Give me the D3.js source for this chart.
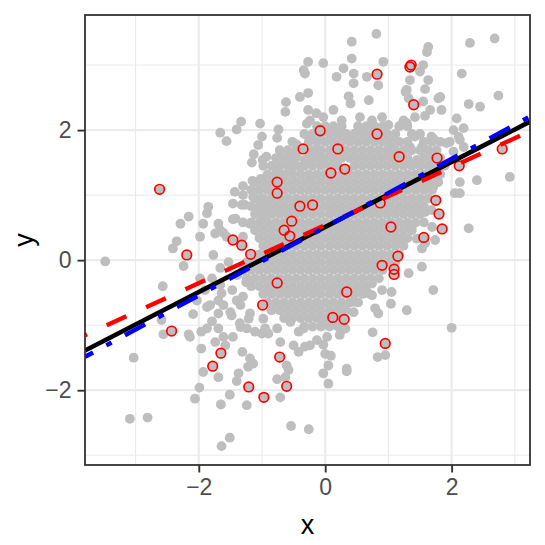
<!DOCTYPE html>
<html>
<head>
<meta charset="utf-8">
<script src="https://cdn.jsdelivr.net/npm/d3@7"></script>
<style>
	body { margin: 0; background: #ffffff; }
	text { font-family: 'Liberation Sans', Arial, Helvetica, sans-serif; }
</style>
</head>
<body>
<div id="chart"></div>
<script>
// scattered gray points (x, y)
var grayPoints = [
	[0.81,3.48],[0.42,3.36],[1.63,3.28],[1.61,3.20],[2.29,3.34],[2.68,3.41],
	[-0.27,3.05],[-0.03,3.03],[0.42,3.10],[-0.34,2.92],[0.29,2.95],[0.45,2.87],
	[0.18,2.82],[0.66,2.82],[0.92,3.05],[1.55,3.00],[1.50,2.90],[1.34,2.77],
	[1.63,2.77],[0.45,2.72],[0.84,2.69],[1.29,2.62],[1.58,2.63],[2.16,2.87],
	[-0.32,2.87],[-0.27,2.57],[-0.40,2.51],[-0.62,2.43],[-0.63,2.28],[-0.27,2.31],
	[-0.29,2.10],[-0.14,2.26],[-0.03,2.20],[-0.24,2.15],[0.37,2.52],[0.40,2.41],
	[0.69,2.46],[1.32,2.49],[1.55,2.44],[1.79,2.49],[1.66,2.31],[1.84,2.31],
	[2.27,2.40],[2.45,2.36],[2.74,2.53],[1.27,2.59],[1.82,2.51],[0.13,2.31],
	[0.26,2.15],[0.55,2.20],[0.74,2.15],[0.90,2.20],[1.24,2.15],[1.42,2.20],
	[1.58,2.22],[2.08,2.18],
	[-1.33,2.13],[-1.40,2.01],[-1.66,1.96],[-1.56,1.83],[-1.03,2.10],[-1.00,1.90],
	[-0.74,2.01],[-0.76,1.88],[-1.06,1.77],
	[1.00,2.08],[1.29,2.11],[1.42,1.90],[1.71,1.87],[2.03,2.00],[2.19,2.03],
	[1.92,1.80],[2.13,1.85],[2.19,1.74],[1.68,1.90],[1.97,1.82],[2.11,1.90],
	[2.03,1.67],[1.53,1.74],[1.34,1.74],[1.45,1.54],[1.32,1.51],[1.05,1.77],[1.00,1.69],
	[-1.13,1.63],[-0.99,1.54],[-1.16,1.50],[-0.93,1.59],[-0.58,1.59],[-0.45,1.59],
	[-0.50,1.49],[-0.40,1.44],[-0.77,1.40],[-0.71,1.33],[-0.45,1.78],[-0.11,1.69],
	[-0.03,1.54],[-0.24,1.90],[-0.32,1.54],[-0.24,1.59],[-0.55,1.43],[-0.68,1.28],
	[-1.02,1.25],[-1.15,1.22],[-1.30,1.14],[-1.43,1.05],[-1.30,1.00],[-1.46,0.87],
	[-1.32,0.85],[-1.85,0.82],[-1.87,0.72],[-2.16,0.67],[-2.29,0.56],[-1.93,0.56],
	[-1.69,0.56],[-1.46,0.63],[-1.66,0.46],[-1.74,0.41],[-1.56,0.36],[-1.14,0.97],
	[-1.00,0.95],[-0.92,0.87],[-1.08,0.77],[-0.84,0.72],[-0.98,0.64],[-1.19,0.56],
	[-1.27,0.85],[-1.42,0.64],[-1.98,0.36],[-1.61,0.42],[-1.30,0.36],[-0.24,1.28],
	[-2.35,0.29],[-2.41,0.18],[-3.48,-0.02],[-2.24,-0.09],[-2.57,-0.40],[-2.59,-0.92],
	[-2.56,-1.14],[-2.16,-1.14],[-3.03,-1.50],[-1.77,0.08],[-2.03,-0.62],[-1.87,-0.72],
	[-1.69,-0.82],[-1.50,-0.80],[-1.69,-0.62],[-1.64,-0.51],[-1.40,-0.62],[-1.30,-0.56],
	[-1.34,-0.69],[-1.19,-0.82],[-0.98,-0.90],[-2.09,-0.83],[-1.96,-1.10],[-1.96,-1.36],
	[-1.74,-1.26],[-1.93,-1.72],[-1.99,-1.96],[-2.06,-2.13],[-3.09,-2.44],[-2.81,-2.42],
	[-1.65,-2.22],[-1.51,-2.07],[-1.24,-2.23],[-1.64,-2.86],[-1.51,-2.73],[-0.54,-2.55],
	[-0.26,-2.60],[-0.71,-2.11],[-0.76,-1.83],[-0.58,-1.69],[-0.63,-1.80],[-1.69,-1.80],
	[-1.37,-1.74],[-1.40,-1.86],[-1.19,-1.51],[-1.14,-1.59],[-1.22,-1.64],[-1.31,-1.41],
	[-1.58,-1.31],[-1.46,-1.18],[-1.69,-1.05],[-1.79,-0.94],[-1.61,-0.69],[-1.82,-0.69],
	[-1.90,-0.46],[-1.66,-0.38],[-1.79,-0.28],[-1.98,-0.28],[-1.48,-0.85],[-1.35,-0.97],
	[-1.21,-0.90],[-1.11,-1.10],[-1.00,-1.13],[-0.90,-1.13],[-0.76,-1.05],[-0.71,-1.26],
	[-0.50,-1.31],[-0.42,-1.41],[-0.24,-1.31],[-0.55,-0.95],[-0.42,-1.10],[-0.34,-1.05],
	[-0.61,-1.62],[-0.32,-1.33],[-0.13,-1.23],[-0.05,-1.00],[0.03,-1.18],[0.00,-1.44],
	[0.05,-1.62],[-0.03,-1.74],[0.05,-1.90],[-2.14,-1.18],[-1.87,-1.05],[-1.61,-1.18],
	[-1.34,-1.03],[-1.24,-1.05],[-0.95,-1.05],
	[-1.66,-0.12],[-1.53,-0.03],[-1.39,-0.23],[-1.25,-0.34],[-1.47,-0.46],
	[1.53,0.18],[1.53,-0.10],[1.32,-0.20],[1.71,-0.46],[1.29,-0.77],[1.04,-0.67],
	[0.79,-0.74],[0.84,-0.82],[0.74,-0.54],[1.05,-0.49],[0.90,-0.46],[2.00,-1.04],
	[0.75,-1.11],[0.83,-1.49],[0.95,-1.46],[0.34,-1.67],[0.34,-1.71],[0.09,-1.47],
	[-0.03,-1.30],[0.23,-1.15],[0.26,-1.08],[0.45,-0.80],[0.47,-0.64],[0.68,-0.51],
	[0.74,-0.36],[0.32,-1.05],
	[1.58,0.74],[1.37,0.51],[1.69,0.51],[1.45,0.33],[1.21,0.26],[1.58,0.26],[1.74,0.31],
	[1.79,1.20],[2.05,1.03],[2.13,1.03],[1.58,1.13],[1.40,1.15],[2.92,1.28],[2.40,1.23],
	[2.13,1.20],[1.71,1.13],[1.68,0.77],[2.27,0.49]
];

// the crowded middle of the cloud, one row of x values per y
var denseRows = [
	[2.06, [-0.13,0.00,0.13,0.26,0.52,0.65,0.78,0.91,1.17,1.30]],
	[1.94, [-0.33,-0.20,-0.07,0.07,0.20,0.33,0.46,0.59,0.72,0.85,0.98,1.11,1.37,1.50]],
	[1.82, [-0.52,-0.26,-0.13,0.00,0.13,0.26,0.39,0.52,0.65,0.78,0.91,1.04,1.17,1.30,1.56,1.69,1.82]],
	[1.69, [-0.72,-0.59,-0.46,-0.20,-0.07,0.07,0.20,0.33,0.46,0.59,0.72,0.85,0.98,1.11,1.24,1.37,1.50,1.63,1.76]],
	[1.57, [-0.78,-0.65,-0.52,-0.26,-0.13,0.00,0.13,0.26,0.39,0.52,0.65,0.78,0.91,1.04,1.17,1.30,1.56,1.69,1.82]],
	[1.45, [-0.98,-0.85,-0.72,-0.59,-0.46,-0.33,-0.20,-0.07,0.07,0.20,0.46,0.59,0.72,0.85,0.98,1.11,1.24,1.37,1.50,1.63,1.76,1.89]],
	[1.32, [-0.91,-0.78,-0.65,-0.52,-0.39,-0.26,-0.13,0.00,0.13,0.26,0.39,0.52,0.65,0.78,0.91,1.04,1.17,1.30,1.43,1.56,1.69,1.82]],
	[1.20, [-1.11,-0.98,-0.85,-0.72,-0.59,-0.46,-0.33,-0.20,-0.07,0.07,0.20,0.33,0.46,0.59,0.72,0.85,0.98,1.11,1.24,1.37,1.50,1.63,1.76]],
	[1.08, [-1.17,-1.04,-0.91,-0.78,-0.65,-0.52,-0.39,-0.26,-0.13,0.00,0.13,0.26,0.39,0.52,0.65,0.78,0.91,1.04,1.17,1.30,1.43,1.56,1.69]],
	[0.95, [-1.11,-0.98,-0.85,-0.72,-0.59,-0.46,-0.33,-0.20,-0.07,0.07,0.20,0.33,0.46,0.59,0.72,0.85,0.98,1.11,1.24,1.37,1.50,1.63]],
	[0.83, [-1.17,-1.04,-0.91,-0.78,-0.65,-0.52,-0.39,-0.26,-0.13,0.00,0.13,0.26,0.39,0.52,0.65,0.78,0.91,1.04,1.17,1.30,1.43,1.56]],
	[0.71, [-1.11,-0.98,-0.85,-0.72,-0.59,-0.46,-0.33,-0.20,-0.07,0.07,0.20,0.33,0.46,0.59,0.72,0.85,0.98,1.11,1.24,1.37,1.50]],
	[0.58, [-1.30,-1.17,-1.04,-0.91,-0.78,-0.65,-0.52,-0.39,-0.26,-0.13,0.00,0.13,0.26,0.39,0.52,0.65,0.78,0.91,1.04,1.17,1.30,1.43,1.56]],
	[0.46, [-1.11,-0.98,-0.85,-0.72,-0.59,-0.46,-0.33,-0.20,-0.07,0.07,0.20,0.33,0.46,0.59,0.72,0.85,0.98,1.11,1.24,1.37]],
	[0.34, [-1.04,-0.91,-0.78,-0.65,-0.52,-0.39,-0.26,-0.13,0.00,0.13,0.26,0.39,0.52,0.65,0.78,0.91,1.04,1.17,1.30]],
	[0.22, [-0.98,-0.85,-0.72,-0.59,-0.46,-0.33,-0.20,-0.07,0.07,0.20,0.33,0.46,0.59,0.72,0.85,0.98,1.11,1.24]],
	[0.09, [-1.04,-0.91,-0.78,-0.65,-0.52,-0.39,-0.26,-0.13,0.00,0.13,0.26,0.39,0.52,0.65,0.78,0.91,1.04,1.17]],
	[-0.03, [-1.24,-1.11,-0.98,-0.85,-0.72,-0.59,-0.46,-0.33,-0.20,-0.07,0.07,0.20,0.33,0.46,0.59,0.72,0.85,0.98,1.11]],
	[-0.15, [-1.30,-1.17,-1.04,-0.91,-0.78,-0.65,-0.52,-0.39,-0.26,-0.13,0.00,0.13,0.26,0.39,0.52,0.65,0.78,0.91]],
	[-0.28, [-1.24,-1.11,-0.98,-0.85,-0.72,-0.59,-0.46,-0.33,-0.20,-0.07,0.07,0.20,0.33,0.46,0.59,0.72,0.85]],
	[-0.40, [-1.17,-1.04,-0.91,-0.78,-0.65,-0.52,-0.39,-0.26,-0.13,0.00,0.13,0.26,0.39,0.52,0.65]],
	[-0.52, [-0.98,-0.85,-0.72,-0.59,-0.46,-0.33,-0.20,-0.07,0.07,0.20,0.33,0.46,0.59]],
	[-0.65, [-0.91,-0.78,-0.65,-0.52,-0.39,-0.26,-0.13,0.00,0.13,0.26,0.39,0.52]],
	[-0.77, [-0.85,-0.72,-0.59,-0.46,-0.33,-0.20,-0.07,0.07,0.20,0.33]],
	[-0.89, [-0.65,-0.52,-0.39,-0.26,-0.13,0.00,0.13,0.26]],
	[-1.02, [-0.33,-0.20,-0.07,0.07,0.20]]
];

// highlighted points (red rings)
var redPoints = [
	[-2.62,1.09],[-2.19,0.08],[-2.43,-1.09],[-1.46,0.31],[-1.32,0.23],[-1.18,0.09],
	[-0.76,1.20],[-0.76,1.03],[-0.35,1.71],[-0.08,1.99],[-0.40,0.83],[-0.20,0.85],
	[-0.53,0.60],[-0.65,0.46],[-0.56,0.37],[0.09,1.34],[0.31,1.40],[0.20,1.71],
	[0.82,2.86],[1.36,3.00],[1.34,2.97],[1.40,2.39],[0.82,1.94],[1.17,1.59],
	[1.77,1.57],[2.12,1.45],[2.80,1.71],[0.87,0.88],[1.75,0.92],[1.80,0.71],
	[1.85,0.48],[1.04,0.51],[1.56,0.35],[1.15,0.06],[0.90,-0.08],[1.09,-0.14],
	[1.09,-0.22],[0.34,-0.49],[0.12,-0.88],[0.30,-0.91],[0.95,-1.28],[-0.76,-0.35],
	[-0.99,-0.69],[-1.65,-1.43],[-1.78,-1.63],[-0.72,-1.49],[-1.21,-1.95],[-0.61,-1.94],
	[-0.97,-2.11]
];

// fitted lines: intercept and slope
var fitLines = [
	{name: 'truth', intercept: 0.51, slope: 0.50},
	{name: 'subset', intercept: 0.539, slope: 0.4455},
	{name: 'full', intercept: 0.508, slope: 0.525}
];

var xTicks = [-2, 0, 2];
var yTicks = [-2, 0, 2];
var xMinor = [-3, -1, 1, 3];
var yMinor = [-3, -1, 1, 3];

var lineStyle = {
	truth: {color: '#000000', width: 4.6, dash: null, offset: 0},
	subset: {color: '#ff0000', width: 4.4, dash: '21.65,21.65', offset: 19.4},
	full: {color: '#0000ff', width: 4.4, dash: '23,15,6,15.2', offset: 13.8}
};

var margin = {top: 15, right: 15, bottom: 80, left: 85};
var width = 545 - margin.left - margin.right;
var height = 545 - margin.top - margin.bottom;

var x = d3.scaleLinear().domain([-3.80, 3.24]).range([0, width]);
var y = d3.scaleLinear().domain([-3.15, 3.77]).range([height, 0]);

var svg = d3.select('#chart')
	.append('svg')
	.attr('width', 545)
	.attr('height', 545);

var g = svg.append('g')
	.attr('transform', 'translate(' + margin.left + ',' + margin.top + ')');

g.append('defs')
	.append('clipPath')
	.attr('id', 'panel')
	.append('rect')
	.attr('width', width)
	.attr('height', height);

// grid
g.selectAll('.vminor')
	.data(xMinor)
	.enter()
	.append('line')
	.attr('x1', function(d) {return x(d);})
	.attr('x2', function(d) {return x(d);})
	.attr('y1', 0)
	.attr('y2', height)
	.style('stroke', '#ebebeb')
	.style('stroke-width', 1.1);

g.selectAll('.hminor')
	.data(yMinor)
	.enter()
	.append('line')
	.attr('x1', 0)
	.attr('x2', width)
	.attr('y1', function(d) {return y(d);})
	.attr('y2', function(d) {return y(d);})
	.style('stroke', '#ebebeb')
	.style('stroke-width', 1.1);

g.selectAll('.vmajor')
	.data(xTicks)
	.enter()
	.append('line')
	.attr('x1', function(d) {return x(d);})
	.attr('x2', function(d) {return x(d);})
	.attr('y1', 0)
	.attr('y2', height)
	.style('stroke', '#ebebeb')
	.style('stroke-width', 2.2);

g.selectAll('.hmajor')
	.data(yTicks)
	.enter()
	.append('line')
	.attr('x1', 0)
	.attr('x2', width)
	.attr('y1', function(d) {return y(d);})
	.attr('y2', function(d) {return y(d);})
	.style('stroke', '#ebebeb')
	.style('stroke-width', 2.2);

// points
var allGray = grayPoints.slice();
denseRows.forEach(function(row) {
	row[1].forEach(function(v) {
		allGray.push([v, row[0]]);
	});
});
allGray = allGray.concat(redPoints);

var plot = g.append('g').attr('clip-path', 'url(#panel)');

plot.selectAll('.gray')
	.data(allGray)
	.enter()
	.append('circle')
	.attr('cx', function(d) {return x(d[0]);})
	.attr('cy', function(d) {return y(d[1]);})
	.attr('r', 4.9)
	.style('fill', '#bebebe');

plot.selectAll('.red')
	.data(redPoints)
	.enter()
	.append('circle')
	.attr('cx', function(d) {return x(d[0]);})
	.attr('cy', function(d) {return y(d[1]);})
	.attr('r', 4.8)
	.style('fill', 'none')
	.style('stroke', '#ff0000')
	.style('stroke-width', 1.7);

// lines
var xd = x.domain();
var valueline = d3.line()
	.x(function(d) {return x(d[0]);})
	.y(function(d) {return y(d[1]);});

fitLines.forEach(function(f) {
	var st = lineStyle[f.name];
	var ends = xd.map(function(v) {return [v, f.intercept + f.slope * v];});
	var path = plot.append('path')
		.datum(ends)
		.attr('d', valueline)
		.style('fill', 'none')
		.style('stroke', st.color)
		.style('stroke-width', st.width);
	if (st.dash) {
		path.style('stroke-dasharray', st.dash)
			.style('stroke-dashoffset', st.offset);
	}
});

// axes
var xAxis = g.append('g')
	.attr('transform', 'translate(0,' + height + ')')
	.call(d3.axisBottom(x)
		.tickValues(xTicks)
		.tickFormat(d3.format('d'))
		.tickSize(7.5)
		.tickPadding(6));

var yAxis = g.append('g')
	.call(d3.axisLeft(y)
		.tickValues(yTicks)
		.tickFormat(d3.format('d'))
		.tickSize(7.5)
		.tickPadding(6));

[xAxis, yAxis].forEach(function(a) {
	a.select('.domain').remove();
	a.selectAll('line')
		.style('stroke', '#333333')
		.style('stroke-width', 1.9);
	a.selectAll('text')
		.style('fill', '#4d4d4d')
		.style('font-size', '23px')
		.style('font-family', "'Liberation Sans', Arial, sans-serif");
});

// panel border
g.append('rect')
	.attr('width', width)
	.attr('height', height)
	.style('fill', 'none')
	.style('stroke', '#333333')
	.style('stroke-width', 1.8);

// titles
svg.append('text')
	.attr('x', margin.left + width / 2)
	.attr('y', 534)
	.style('text-anchor', 'middle')
	.style('font-size', '27px')
	.style('fill', '#000000')
	.text('x');

svg.append('text')
	.attr('transform', 'translate(33,' + (margin.top + height / 2) + ') rotate(-90)')
	.style('text-anchor', 'middle')
	.style('font-size', '27px')
	.style('fill', '#000000')
	.text('y');
</script>
</body>
</html>
